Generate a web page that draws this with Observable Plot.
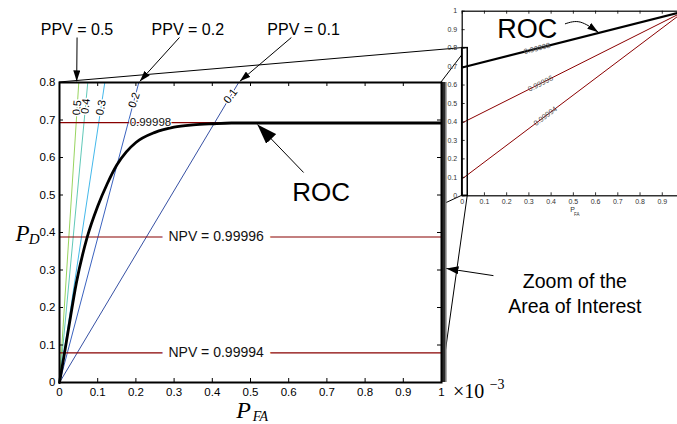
<!DOCTYPE html>
<html><head><meta charset="utf-8">
<script src="https://cdn.jsdelivr.net/npm/d3@7"></script>
<script src="https://cdn.jsdelivr.net/npm/@observablehq/plot@0.6"></script>
<style>
body{margin:0;background:#fff;}
#wrap{position:relative;width:677px;height:424px;overflow:hidden;background:#fff;font-family:"Liberation Sans",Arial,sans-serif;}
#wrap svg{position:absolute;top:0;}
</style></head><body><div id="wrap"></div>
<script>
// ---------------- data (main plot: P_FA in units of 1e-3) ----------------
const xTicks = [0,0.1,0.2,0.3,0.4,0.5,0.6,0.7,0.8,0.9,1];
const yTicks = [0,0.1,0.2,0.3,0.4,0.5,0.6,0.7,0.8];
const rocPfa = [0,0.013,0.023,0.044,0.0725,0.1,0.125,0.15,0.175,0.2,0.25,0.3,0.35,0.4,0.45,0.5,1.0];
const rocPd  = [0,0.078,0.139,0.265,0.3875,0.47,0.53,0.58,0.615,0.64,0.667,0.681,0.687,0.69,0.692,0.692,0.692];
const ppvLevels = ["0.5","0.4","0.3","0.2","0.1"];
const ppvTopPfa = [0.0505,0.074,0.1186,0.2076,0.469];   // where each PPV contour reaches P_D = 0.8
const ppvColors = ["#8ccf4d","#4ec2b0","#2fb0e8","#2450b8","#1f3c99"];
const ppvDash = ["6,1.5","6,1.5","6,1.5","2.5,1.2","2.5,1.2"];
const ppvLabelPd = [0.733,0.737,0.733,0.753,0.764];
const npvPd = [0.693,0.388,0.079];
const npvLabels = ["0.99998","NPV = 0.99996","NPV = 0.99994"];
const npvLabelPfa = [0.238,0.41,0.41];
const calloutText = ["PPV = 0.5","PPV = 0.2","PPV = 0.1"];
const calloutX = [0.0458,0.336,0.639];
const calloutY = 0.941;
const calloutTailX = [0.046,0.314,0.607], calloutTailY = 0.92;
const calloutHeadX = [0.045,0.210,0.472], calloutHeadY = 0.803;
const rocArrow = {x1:0.639,y1:0.56,x2:0.518,y2:0.688};
const zoomArrow = {x1:1.136,y1:0.285,x2:1.013,y2:0.304};
// ---------------- data (inset, full P_FA range) ----------------
const insetXTicks = [0,0.1,0.2,0.3,0.4,0.5,0.6,0.7,0.8,0.9];
const insetYTicks = [0,0.1,0.2,0.3,0.4,0.5,0.6,0.7,0.8,0.9,1];
const insetRocStart = 0.695;
const insetNpvStart = [0.395,0.092];
const insetLabels = ["0.99998","0.99996","0.99994"];
const insetLabelStart = [0.695,0.395,0.092];
const insetLabelPfa = [0.337,0.352,0.374];
const zoomBox = {x1:0,x2:0.025,y1:0,y2:0.8};
const insetArrowX = [0.464,0.531,0.612];
const insetArrowY = [0.932,0.941,0.886];

// ---------------- layout ----------------
const W = 677, H = 424;
const mL = 59, mR = 236, mT = 82, mB = 42;
const innerW = W - mL - mR, innerH = H - mT - mB;
const IL = 430, IW = 260, IH = 222;
const imL = 31.7, imR = 6, imT = 10.7, imB = 26.7;
const iInnerW = IW - imL - imR, iInnerH = IH - imT - imB;

const sans = "Liberation Sans, Arial, sans-serif";
const serif = "Liberation Serif, DejaVu Serif, serif";

const roc = rocPfa.map((x,i)=>({x, y: rocPd[i]}));
const ppv = ppvLevels.map((l,i)=>({l, top: ppvTopPfa[i], color: ppvColors[i], dash: ppvDash[i],
  ly: ppvLabelPd[i], lx: ppvTopPfa[i]*ppvLabelPd[i]/0.8,
  rot: -Math.atan2(0.8*innerH, ppvTopPfa[i]*innerW)*180/Math.PI}));
const npv = npvPd.map((y,i)=>({y, label: npvLabels[i], lx: npvLabelPfa[i]}));
const callouts = calloutText.map((t,i)=>({t, x: calloutX[i], y: calloutY,
  x1: calloutTailX[i], y1: calloutTailY, x2: calloutHeadX[i], y2: calloutHeadY}));

const main = Plot.plot({
  width: W, height: H, marginLeft: mL, marginRight: mR, marginTop: mT, marginBottom: mB,
  style: {background: "transparent", overflow: "visible", fontFamily: sans},
  x: {domain: [0,1]}, y: {domain: [0,0.8]},
  marks: [
    Plot.frame({fill: "white", stroke: null}),
    Plot.link(ppv, {x1: 0, y1: 0, x2: "top", y2: 0.8, stroke: "color", strokeWidth: 0.9, strokeDasharray: d=>d.dash}),
    Plot.ruleY(npv, {y: "y", stroke: "#880000", strokeWidth: 1.1}),
    Plot.line(roc, {x: "x", y: "y", stroke: "black", strokeWidth: 2.8, curve: "monotone-x"}),
    Plot.text(ppv, {x: "lx", y: "ly", text: "l", rotate: "rot", fontSize: 11, stroke: "white", strokeWidth: 3, fill: "black"}),
    Plot.text(npv.slice(0,1), {x: "lx", y: "y", text: "label", fontSize: 11.5, stroke: "white", strokeWidth: 2, fill: "#111"}),
    Plot.text(npv.slice(1), {x: "lx", y: "y", text: "label", fontSize: 14, stroke: "white", strokeWidth: 14, fill: "#111"}),
    // inward ticks
    Plot.tickX(xTicks, {x: d=>d, insetTop: innerH-4, strokeWidth: 1}),
    Plot.tickX(xTicks, {x: d=>d, insetBottom: innerH-4, strokeWidth: 1}),
    Plot.tickY(yTicks, {y: d=>d, insetRight: innerW-4, strokeWidth: 1}),
    Plot.tickY(yTicks, {y: d=>d, insetLeft: innerW-4, strokeWidth: 1}),
    Plot.axisX({ticks: xTicks, tickSize: 0, tickPadding: 5, fontSize: 11.5, tickFormat: d=>String(d), label: null}),
    Plot.axisY({ticks: yTicks, tickSize: 0, tickPadding: 4, fontSize: 11.5, tickFormat: d=>String(d), label: null}),
    // side of the zoom "box"
    Plot.ruleX([1], {x: d=>d, dx: 1.8, strokeWidth: 3.6, stroke: "#2a2a2a"}),
    Plot.ruleX([1], {x: d=>d, dx: 4.3, strokeWidth: 1.6, stroke: "#7a7a7a"}),
    Plot.frame({stroke: "black", strokeWidth: 2}),
    // annotations
    Plot.text(callouts, {x: "x", y: "y", text: "t", fontSize: 16, fill: "black"}),
    Plot.link(callouts, {x1: "x1", y1: "y1", x2: "x2", y2: "y2", stroke: "black", strokeWidth: 1, ariaDescription: "arrS"}),
    Plot.text(["ROC"], {x: 0.685, y: 0.505, text: d=>d, fontSize: 26, fill: "black"}),
    Plot.link([rocArrow], {x1: "x1", y1: "y1", x2: "x2", y2: "y2", stroke: "black", strokeWidth: 1, ariaDescription: "arrL"}),
    Plot.text(["Zoom of the\nArea of Interest"], {x: 1.349, y: 0.24, text: d=>d, fontSize: 19.5, lineHeight: 1.3, fill: "black"}),
    Plot.link([zoomArrow], {x1: "x1", y1: "y1", x2: "x2", y2: "y2", stroke: "black", strokeWidth: 1, ariaDescription: "arrM"}),
    // axis labels
    Plot.text(["P"], {x: 0.482, y: -0.0747, text: d=>d, fontSize: 24, fontStyle: "italic", fontFamily: serif, fill: "black"}),
    Plot.text(["FA"], {x: 0.526, y: -0.0907, text: d=>d, fontSize: 14, fontStyle: "italic", fontFamily: serif, fill: "black"}),
    Plot.text(["P"], {x: -0.097, y: 0.396, text: d=>d, fontSize: 23, fontStyle: "italic", fontFamily: serif, fill: "black"}),
    Plot.text(["D"], {x: -0.066, y: 0.381, text: d=>d, fontSize: 15, fontStyle: "italic", fontFamily: serif, fill: "black"}),
    Plot.text(["×10"], {x: 1.03, y: -0.024, text: d=>d, textAnchor: "start", fontSize: 20, fontFamily: serif, fill: "black"}),
    Plot.text(["−3"], {x: 1.126, y: -0.006, text: d=>d, textAnchor: "start", fontSize: 14, fontFamily: serif, fill: "black"})
  ]
});

// ---------------- inset ----------------
const insetLines = [{x1:0, y1: insetRocStart, x2:1, y2:1}];
const insetNpv = insetNpvStart.map(s=>({x1:0, y1:s, x2:1, y2:1}));
const insetLbl = insetLabels.map((t,i)=>({t, x: insetLabelPfa[i],
  y: insetLabelStart[i] + (1-insetLabelStart[i])*insetLabelPfa[i],
  rot: -Math.atan2((1-insetLabelStart[i])*iInnerH, iInnerW)*180/Math.PI}));
const insetArrow = insetArrowX.map((x,i)=>({x, y: insetArrowY[i]}));

const inset = Plot.plot({
  width: IW, height: IH, marginLeft: imL, marginRight: imR, marginTop: imT, marginBottom: imB,
  style: {background: "transparent", overflow: "visible", fontFamily: sans},
  x: {domain: [0,1]}, y: {domain: [0,1]},
  marks: [
    Plot.frame({fill: "white", stroke: null}),
    Plot.link(insetNpv, {x1:"x1", y1:"y1", x2:"x2", y2:"y2", stroke: "#8b0000", strokeWidth: 1}),
    Plot.link(insetLines, {x1:"x1", y1:"y1", x2:"x2", y2:"y2", stroke: "black", strokeWidth: 2}),
    Plot.text(insetLbl, {x: "x", y: "y", text: "t", rotate: "rot", fontSize: 7.5, fill: "#555"}),
    Plot.rect([zoomBox], {x1: "x1", x2: "x2", y1: "y1", y2: "y2", fill: "none", stroke: "black", strokeWidth: 1.5}),
    Plot.tickX(insetXTicks, {x: d=>d, insetTop: iInnerH-3, strokeWidth: 0.8}),
    Plot.tickX(insetXTicks, {x: d=>d, insetBottom: iInnerH-3, strokeWidth: 0.8}),
    Plot.tickY(insetYTicks, {y: d=>d, insetRight: iInnerW-3, strokeWidth: 0.8}),
    Plot.axisX({ticks: insetXTicks, tickSize: 0, tickPadding: 3, fontSize: 7, fill: "#333", tickFormat: d=>String(d), label: null}),
    Plot.axisY({ticks: insetYTicks, tickSize: 0, tickPadding: 5, fontSize: 7, fill: "#333", tickFormat: d=>String(d), label: null}),
    Plot.frame({stroke: "black", strokeWidth: 1.2}),
    Plot.text(["ROC"], {x: 0.293, y: 0.901, text: d=>d, fontSize: 27, fill: "black"}),
    Plot.line(insetArrow, {x: "x", y: "y", curve: "natural", stroke: "black", strokeWidth: 1, ariaDescription: "arrI"}),
    Plot.text(["P"], {x: 0.497, y: -0.075, text: d=>d, fontSize: 7, fill: "#333"}),
    Plot.text(["FA"], {x: 0.515, y: -0.1, text: d=>d, fontSize: 4.5, fill: "#333"})
  ]
});

// ---------------- assemble ----------------
const wrap = d3.select("#wrap");
const conn = wrap.append("svg").attr("width", W).attr("height", H).style("left","0px");
wrap.node().appendChild(main);
d3.select(main).style("left","0px").style("top","0px");
wrap.node().appendChild(inset);
d3.select(inset).style("left", IL+"px").style("top","0px");

function addMarker(svg, id, len, wid) {
  let defs = svg.select("defs");
  if (defs.empty()) defs = svg.insert("defs", ":first-child");
  defs.append("marker").attr("id", id)
    .attr("viewBox", `0 ${-wid/2} ${len} ${wid}`)
    .attr("refX", len).attr("refY", 0)
    .attr("markerWidth", len).attr("markerHeight", wid)
    .attr("markerUnits", "userSpaceOnUse").attr("orient", "auto")
    .append("path").attr("d", `M0,${-wid/2}L${len},0L0,${wid/2}Z`).attr("fill", "black");
}
const ms = d3.select(main), is = d3.select(inset);
addMarker(ms, "ahS", 11, 7); addMarker(ms, "ahL", 20, 14); addMarker(ms, "ahM", 12, 8);
addMarker(is, "ahI", 11, 7);
ms.selectAll('g[aria-description="arrS"] path').attr("marker-end", "url(#ahS)");
ms.selectAll('g[aria-description="arrL"] path').attr("marker-end", "url(#ahL)");
ms.selectAll('g[aria-description="arrM"] path').attr("marker-end", "url(#ahM)");
is.selectAll('g[aria-description="arrI"] path').attr("marker-end", "url(#ahI)");

// connectors of the zoom box (main frame corners -> inset zoom rectangle corners)
const mx = main.scale("x").apply, my = main.scale("y").apply;
const ix = v => inset.scale("x").apply(v) + IL, iy = v => inset.scale("y").apply(v);
const corners = [
  [[0,0.8],[zoomBox.x1, zoomBox.y2]],
  [[1,0.8],[zoomBox.x2, zoomBox.y2]],
  [[1,0],[zoomBox.x2, zoomBox.y1]],
  [[0,0],[zoomBox.x1, zoomBox.y1]]
];
conn.selectAll("line").data(corners).join("line")
  .attr("x1", d=>mx(d[0][0])).attr("y1", d=>my(d[0][1]))
  .attr("x2", d=>ix(d[1][0])).attr("y2", d=>iy(d[1][1]))
  .attr("stroke", "black").attr("stroke-width", 1);
</script></body></html>
